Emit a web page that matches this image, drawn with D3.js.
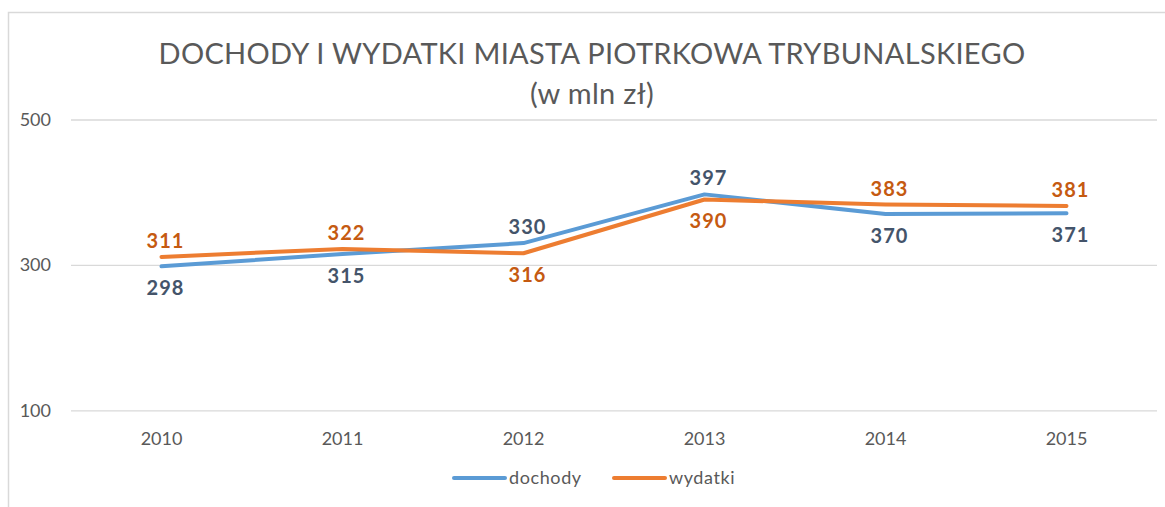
<!DOCTYPE html>
<html>
<head>
<meta charset="utf-8">
<script src="https://cdn.jsdelivr.net/npm/d3@7/dist/d3.min.js"></script>
<style>
  body { margin: 0; background: #fff; }
  svg { display: block; font-family: Lato, "Open Sans", sans-serif; }
</style>
</head>
<body>
<script>
const years = ['2010', '2011', '2012', '2013', '2014', '2015'];
const dochody = [298, 315, 330, 397, 370, 371];
const wydatki = [311, 322, 316, 390, 383, 381];
// where the value label sits relative to the point
const dochodyPos = ['below', 'below', 'above', 'above', 'below', 'below'];
const wydatkiPos = ['above', 'above', 'below', 'below', 'above', 'above'];
const yTicks = [100, 300, 500];

const W = 1165, H = 507;

const svg = d3.select('body').append('svg')
  .attr('width', W)
  .attr('height', H);

// chart frame
svg.append('rect')
  .attr('x', 8.5).attr('y', 12.5)
  .attr('width', W).attr('height', H)
  .attr('fill', '#fff')
  .attr('stroke', '#d9d9d9')
  .attr('stroke-width', 1.5);

const x = d3.scaleBand().domain(years).range([71, 1157]);
const y = d3.scaleLinear().domain([100, 500]).range([410.3, 119.5]);
const cx = d => x(d) + x.bandwidth() / 2;

// title
svg.append('text')
  .attr('x', 592).attr('y', 64)
  .attr('text-anchor', 'middle')
  .attr('fill', '#595959')
  .style('font-size', '29px')
  .style('letter-spacing', '0.3px')
  .text('DOCHODY I WYDATKI MIASTA PIOTRKOWA TRYBUNALSKIEGO');

svg.append('text')
  .attr('x', 592).attr('y', 104)
  .attr('text-anchor', 'middle')
  .attr('fill', '#595959')
  .style('font-size', '29px')
  .style('letter-spacing', '0.3px')
  .text('(w mln zł)');

// y axis with gridlines
const yAxis = svg.append('g')
  .attr('transform', 'translate(71,0)')
  .call(d3.axisLeft(y).tickValues(yTicks).tickSize(-(1157 - 71)).tickPadding(20));
yAxis.select('.domain').remove();
yAxis.selectAll('.tick line').attr('stroke', '#d9d9d9').attr('stroke-width', 1.3);
yAxis.selectAll('.tick text')
  .attr('fill', '#595959')
  .style('font-size', '18px')
  .style('font-family', 'Lato, sans-serif');

// x axis labels
const xAxis = svg.append('g')
  .attr('transform', 'translate(0,410.3)')
  .call(d3.axisBottom(x).tickSize(0).tickPadding(22));
xAxis.select('.domain').remove();
xAxis.selectAll('.tick text')
  .attr('fill', '#595959')
  .style('font-size', '18px')
  .style('font-family', 'Lato, sans-serif');

const series = [
  { name: 'dochody', values: dochody, pos: dochodyPos, color: '#5b9bd5', labelColor: '#44546a' },
  { name: 'wydatki', values: wydatki, pos: wydatkiPos, color: '#ed7d31', labelColor: '#c55a11' }
];

const line = d3.line()
  .x((d, i) => cx(years[i]))
  .y(d => y(d));

series.forEach(s => {
  svg.append('path')
    .datum(s.values)
    .attr('fill', 'none')
    .attr('stroke', s.color)
    .attr('stroke-width', 4)
    .attr('stroke-linejoin', 'round')
    .attr('stroke-linecap', 'round')
    .attr('d', line);
});

series.forEach(s => {
  svg.append('g')
    .selectAll('text')
    .data(s.values)
    .enter()
    .append('text')
    .attr('x', (d, i) => cx(years[i]) + 4)
    .attr('y', (d, i) => y(d) + (s.pos[i] === 'above' ? -9 : 29))
    .attr('text-anchor', 'middle')
    .attr('fill', s.labelColor)
    .style('font-size', '20px')
    .style('font-weight', 'bold')
    .style('letter-spacing', '1px')
    .text(d => d);
});

// legend
const legend = svg.append('g').attr('transform', 'translate(0,478)');
const legendItems = [
  { name: 'dochody', color: '#5b9bd5', x: 454 },
  { name: 'wydatki', color: '#ed7d31', x: 614 }
];
legendItems.forEach(l => {
  legend.append('line')
    .attr('x1', l.x).attr('x2', l.x + 51)
    .attr('y1', 0).attr('y2', 0)
    .attr('stroke', l.color)
    .attr('stroke-width', 4)
    .attr('stroke-linecap', 'round');
  legend.append('text')
    .attr('x', l.x + 55).attr('y', 6)
    .attr('fill', '#595959')
    .style('font-size', '18px')
    .style('letter-spacing', '0.6px')
    .text(l.name);
});
</script>
</body>
</html>
